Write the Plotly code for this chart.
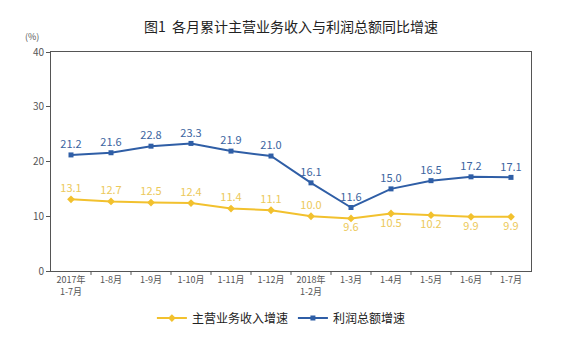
import plotly.graph_objects as go

categories = ["2017年<br>1-7月", "1-8月", "1-9月", "1-10月", "1-11月", "1-12月",
              "2018年<br>1-2月", "1-3月", "1-4月", "1-5月", "1-6月", "1-7月"]
revenue = [13.1, 12.7, 12.5, 12.4, 11.4, 11.1, 10.0, 9.6, 10.5, 10.2, 9.9, 9.9]
profit = [21.2, 21.6, 22.8, 23.3, 21.9, 21.0, 16.1, 11.6, 15.0, 16.5, 17.2, 17.1]
revenue_name = "主营业务收入增速"
profit_name = "利润总额增速"
title = "图1  各月累计主营业务收入与利润总额同比增速"

FONT = "Noto Sans CJK SC, Microsoft YaHei, sans-serif"
BLUE = "#2f5ea6"
YELLOW = "#f2c12e"

x = list(range(len(categories)))
rev_pos = ["top center"] * 7 + ["bottom center"] * 5
prof_pos = ["top center"] * len(profit)

fig = go.Figure()
fig.add_trace(go.Scatter(
    x=x, y=revenue, name=revenue_name, mode="lines+markers+text",
    line=dict(color=YELLOW, width=2),
    marker=dict(symbol="diamond", size=6, color=YELLOW),
    text=[f"{v:.1f}" for v in revenue], textposition=rev_pos,
    textfont=dict(color="#ecc95a", size=11, family=FONT),
))
fig.add_trace(go.Scatter(
    x=x, y=profit, name=profit_name, mode="lines+markers+text",
    line=dict(color=BLUE, width=2),
    marker=dict(symbol="square", size=5, color=BLUE),
    text=[f"{v:.1f}" for v in profit], textposition=prof_pos,
    textfont=dict(color="#3b64a0", size=11, family=FONT),
))

fig.update_layout(
    width=581, height=337,
    margin=dict(l=51, r=50, t=52, b=66, autoexpand=False),
    paper_bgcolor="white", plot_bgcolor="white",
    font=dict(family=FONT, color="#444"),
    title=dict(text=title, x=0.5, xref="paper", y=0.92, yref="container",
               yanchor="middle", xanchor="center",
               font=dict(size=14, color="#222", family=FONT)),
    showlegend=True,
    legend=dict(orientation="h", x=0.48, xanchor="center", y=-0.215, yanchor="middle",
                font=dict(size=12, color="#222", family=FONT),
                itemwidth=30, tracegroupgap=0, bgcolor="rgba(0,0,0,0)"),
    xaxis=dict(
        range=[-0.5, len(categories) - 0.5], automargin=False,
        tickmode="array", tickvals=x, ticktext=categories,
        ticks="", showgrid=False, zeroline=False,
        showline=True, linecolor="#555", linewidth=1, mirror=True,
        tickfont=dict(size=9, color="#555", family=FONT),
    ),
    yaxis=dict(
        range=[0, 40], tickvals=[0, 10, 20, 30, 40], automargin=False,
        ticks="outside", ticklen=4, tickcolor="#555",
        showgrid=False, zeroline=False,
        showline=True, linecolor="#555", linewidth=1, mirror=True,
        tickfont=dict(size=10, color="#555", family=FONT),
    ),
)

for b in [i + 0.5 for i in range(len(categories) - 1)]:
    fig.add_shape(type="line", xref="x", yref="paper", x0=b, x1=b, y0=0, y1=-0.018,
                  line=dict(color="#555", width=1))

fig.add_annotation(text="(%)", xref="paper", yref="paper", x=-0.021, y=1.0,
                   xanchor="right", yanchor="bottom", yshift=7, showarrow=False,
                   font=dict(size=9, color="#555", family=FONT))

fig.write_html("out.html")
